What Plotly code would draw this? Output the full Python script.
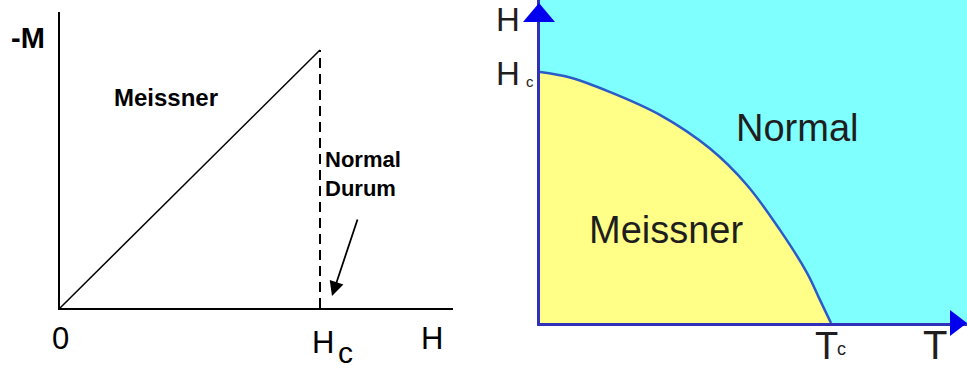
import plotly.graph_objects as go

# ---- data ----
# left panel: -M vs H (H in units of Hc)
mh_H = [0.0, 1.0]
mh_M = [0.0, 1.0]
dash_H = [1.0, 1.0]
dash_M = [0.0, 1.0]

# right panel: critical field curve Hc(T)
# (T in units of Tc, H in units of Hc(0))
hc_T = [0.0, 0.103, 0.241, 0.412, 0.584, 0.711, 0.825, 0.918, 0.962, 1.0]
hc_H = [1.0, 0.978, 0.920, 0.829, 0.695, 0.550, 0.370, 0.199, 0.092, 0.0]

W, H = 967, 370
FONT = "Liberation Sans, Arial, sans-serif"

fig = go.Figure()

fig.add_trace(go.Scatter(x=mh_H, y=mh_M, mode="lines",
                         line=dict(color="black", width=1.5),
                         xaxis="x", yaxis="y", hoverinfo="skip"))
fig.add_trace(go.Scatter(x=dash_H, y=dash_M, mode="lines",
                         line=dict(color="black", width=2, dash="10px,6px"),
                         xaxis="x", yaxis="y", hoverinfo="skip"))

fig.add_trace(go.Scatter(x=hc_T, y=hc_H, mode="lines", fill="tozeroy",
                         fillcolor="#FFFF88",
                         line=dict(color="#2A5BC8", width=2.5, shape="spline", smoothing=1.0),
                         xaxis="x2", yaxis="y2", hoverinfo="skip"))

x1_range = [0, (453 - 60) / 260]
y1_range = [0, (308 - 12) / 258]
x2_range = [0, (967 - 540) / 291]
y2_range = [0, (323 - 0) / 251]

axis_common = dict(showgrid=False, zeroline=False, showticklabels=False, ticks="")
fig.update_layout(
    width=W, height=H, autosize=False,
    margin=dict(l=0, r=0, t=0, b=0),
    paper_bgcolor="white", plot_bgcolor="rgba(0,0,0,0)",
    showlegend=False,
    xaxis=dict(domain=[60 / W, 453 / W], range=x1_range, showline=True,
               linecolor="black", linewidth=2, anchor="y", **axis_common),
    yaxis=dict(domain=[(H - 308) / H, (H - 12) / H], range=y1_range, showline=True,
               linecolor="black", linewidth=2, anchor="x", **axis_common),
    xaxis2=dict(domain=[540 / W, 1.0], range=x2_range, showline=True,
                linecolor="#3030B8", linewidth=3, anchor="y2", **axis_common),
    yaxis2=dict(domain=[(H - 323) / H, 1.0], range=y2_range, showline=True,
                linecolor="#3030B8", linewidth=3, anchor="x2", **axis_common),
)

def P(px, py):
    return px / W, 1 - py / H

ax0, ay0 = P(539, 3)
bx0, by0 = P(967, 323)
shapes = [
    dict(type="rect", xref="x2", yref="y2", x0=0, x1=x2_range[1], y0=0, y1=y2_range[1],
         fillcolor="#80FFFF", line=dict(width=0), layer="below"),
    dict(type="path", xref="paper", yref="paper", xsizemode="pixel", ysizemode="pixel",
         xanchor=ax0, yanchor=ay0,
         path="M -16,-19 L 16,-19 L 0,0 Z", fillcolor="#0000EE", line=dict(width=0)),
    dict(type="path", xref="paper", yref="paper", xsizemode="pixel", ysizemode="pixel",
         xanchor=bx0, yanchor=by0,
         path="M -17,13 L -17,-13 L 0,0 Z", fillcolor="#0000EE", line=dict(width=0)),
]
fig.update_layout(shapes=shapes)

ann = []

def txt(text, px, py, size, bold=False, color="black", xanchor="center", align="center"):
    x, y = P(px, py)
    ann.append(dict(text=f"<b>{text}</b>" if bold else text, x=x, y=y,
                    xref="paper", yref="paper", showarrow=False,
                    xanchor=xanchor, yanchor="middle", align=align,
                    font=dict(family=FONT, size=size, color=color)))

# left labels
txt("-M", 28, 38, 29, bold=True)
txt("Meissner", 166, 97, 24, bold=True)
txt("Normal<br>Durum", 323, 174, 22, bold=True, xanchor="left", align="left")
txt("0", 60, 338, 31)
txt("H", 323, 342, 31)
txt("c", 345, 352, 30)
txt("H", 432, 338, 31)

# arrow in left panel (data coords of the left axes)
def L(px, py):
    return (px - 60) / 260, (308 - py) / 258
hx, hy = L(332, 296)
tx, ty = L(358, 218)
ann.append(dict(x=hx, y=hy, ax=tx, ay=ty, xref="x", yref="y", axref="x", ayref="y",
                showarrow=True, arrowhead=2, arrowsize=1.6, arrowwidth=1.8,
                arrowcolor="black", text=""))

# right labels
dark = "#1E1E1E"
txt("H", 508, 19, 33, color=dark)
txt("H", 508, 74, 33, color=dark)
txt("c", 530, 81, 15, color=dark)
txt("Normal", 797, 128, 38, color=dark)
txt("Meissner", 666, 230, 38, color=dark)
txt("T", 826, 346, 38, color=dark)
txt("c", 841, 349, 18, color=dark)
txt("T", 935, 345, 40, color=dark)

fig.update_layout(annotations=ann)

fig.write_html("out.html", config={"displayModeBar": False},
               post_script="document.body.style.margin='0';document.body.style.overflow='hidden';")
